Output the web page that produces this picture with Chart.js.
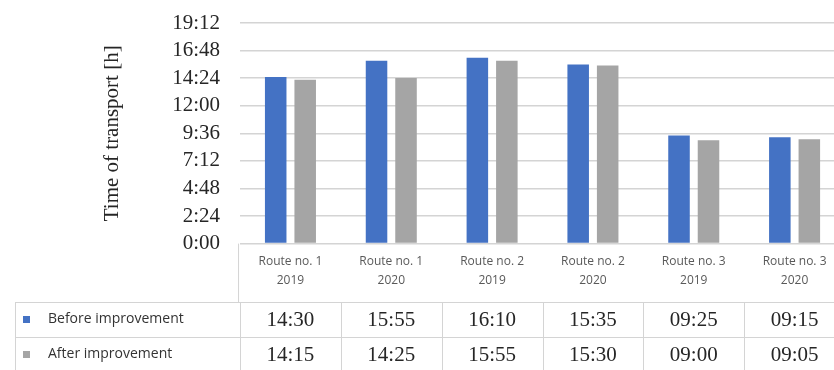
<!DOCTYPE html>
<html>
<head>
<meta charset="utf-8">
<script src="https://cdn.jsdelivr.net/npm/chart.js@4"></script>
<style>
    html, body { margin: 0; padding: 0; background: #fff; overflow: hidden; }
    #wrap { width: 846px; height: 370px; }
</style>
</head>
<body>
<div id="wrap"><canvas id="chart"></canvas></div>
<script>
// Data (minutes)
const routes = [['Route no. 1', '2019'], ['Route no. 1', '2020'], ['Route no. 2', '2019'],
                ['Route no. 2', '2020'], ['Route no. 3', '2019'], ['Route no. 3', '2020']];
const beforeImprovement = [870, 955, 970, 935, 565, 555];
const afterImprovement = [855, 865, 955, 930, 540, 545];
const yMax = 1152;   // 19:12
const yStep = 144;   // 2:24

const blue = '#4472C4';
const gray = '#A5A5A5';
const lineColor = '#d4d4d4';

function fmt(min, pad) {
    const h = Math.floor(min / 60);
    const m = String(min % 60).padStart(2, '0');
    return (pad ? String(h).padStart(2, '0') : h) + ':' + m;
}

// draws the data table under the chart
const dataTable = {
    id: 'dataTable',
    afterDraw(chart) {
        const { ctx, scales: { x }, chartArea } = chart;
        const half = (x.getPixelForValue(1) - x.getPixelForValue(0)) / 2;
        const left = chartArea.left, right = x.getPixelForValue(routes.length - 1) + half;
        const headTop = chartArea.bottom, rowTop = 302, rowMid = 337, rowBottom = 372;
        const tableLeft = 15;

        ctx.save();
        ctx.strokeStyle = lineColor;
        ctx.lineWidth = 1;
        ctx.beginPath();
        // header left border
        ctx.moveTo(left - 1.5, headTop); ctx.lineTo(left - 1.5, rowTop);
        // horizontal lines
        [rowTop, rowMid, rowBottom].forEach(y => {
            ctx.moveTo(tableLeft, y + 0.5); ctx.lineTo(right, y + 0.5);
        });
        // vertical lines in value rows
        ctx.moveTo(tableLeft + 0.5, rowTop); ctx.lineTo(tableLeft + 0.5, rowBottom);
        for (let i = 0; i <= routes.length; i++) {
            const px = Math.round(x.getPixelForValue(i) - half) + 0.5;
            ctx.moveTo(px, rowTop); ctx.lineTo(px, rowBottom);
        }
        ctx.stroke();

        // legend keys + names
        const rows = [
            { name: 'Before improvement', color: blue, values: beforeImprovement, y: (rowTop + rowMid) / 2 },
            { name: 'After improvement', color: gray, values: afterImprovement, y: (rowMid + rowBottom) / 2 }
        ];
        rows.forEach(r => {
            ctx.fillStyle = r.color;
            ctx.fillRect(23, r.y - 3.5, 7, 7);
            ctx.fillStyle = '#333';
            ctx.font = '14px "Open Sans"';
            ctx.textAlign = 'left';
            ctx.textBaseline = 'middle';
            ctx.fillText(r.name, 48, r.y);
            ctx.fillStyle = '#262626';
            ctx.font = '21px "Liberation Serif"';
            ctx.textAlign = 'center';
            r.values.forEach((v, i) => {
                ctx.fillText(fmt(v, true), x.getPixelForValue(i), r.y + 1);
            });
        });
        ctx.restore();
    }
};

new Chart(document.getElementById('chart'), {
    type: 'bar',
    data: {
        labels: routes,
        datasets: [
            { label: 'Before improvement', data: beforeImprovement, backgroundColor: blue },
            { label: 'After improvement', data: afterImprovement, backgroundColor: gray }
        ]
    },
    options: {
        responsive: true,
        maintainAspectRatio: false,
        animation: false,
        datasets: {
            bar: { categoryPercentage: 0.585, barPercentage: 0.73 }
        },
        layout: { autoPadding: false, padding: { left: 100, right: 1, top: 23, bottom: 80 } },
        plugins: {
            legend: { display: false },
            tooltip: { enabled: false }
        },
        scales: {
            x: {
                grid: { display: false },
                border: { display: true, color: lineColor },
                ticks: {
                    color: '#595959',
                    font: { family: 'Open Sans', size: 12, lineHeight: 1.6 },
                    maxRotation: 0,
                    autoSkip: false,
                    padding: 0
                }
            },
            y: {
                min: 0,
                max: yMax,
                grid: { color: lineColor, lineWidth: 1.5, drawTicks: true, tickLength: 16, tickColor: 'transparent' },
                border: { display: false },
                ticks: {
                    stepSize: yStep,
                    autoSkip: false,
                    padding: 4,
                    color: '#262626',
                    font: { family: 'Liberation Serif', size: 21 },
                    callback: v => fmt(v, false)
                },
                title: {
                    display: true,
                    text: 'Time of transport [h]',
                    color: '#262626',
                    font: { family: 'Liberation Serif', size: 21, lineHeight: 1.2 },
                    padding: { top: 0, bottom: 43 }
                }
            }
        }
    },
    plugins: [dataTable]
});
</script>
</body>
</html>
